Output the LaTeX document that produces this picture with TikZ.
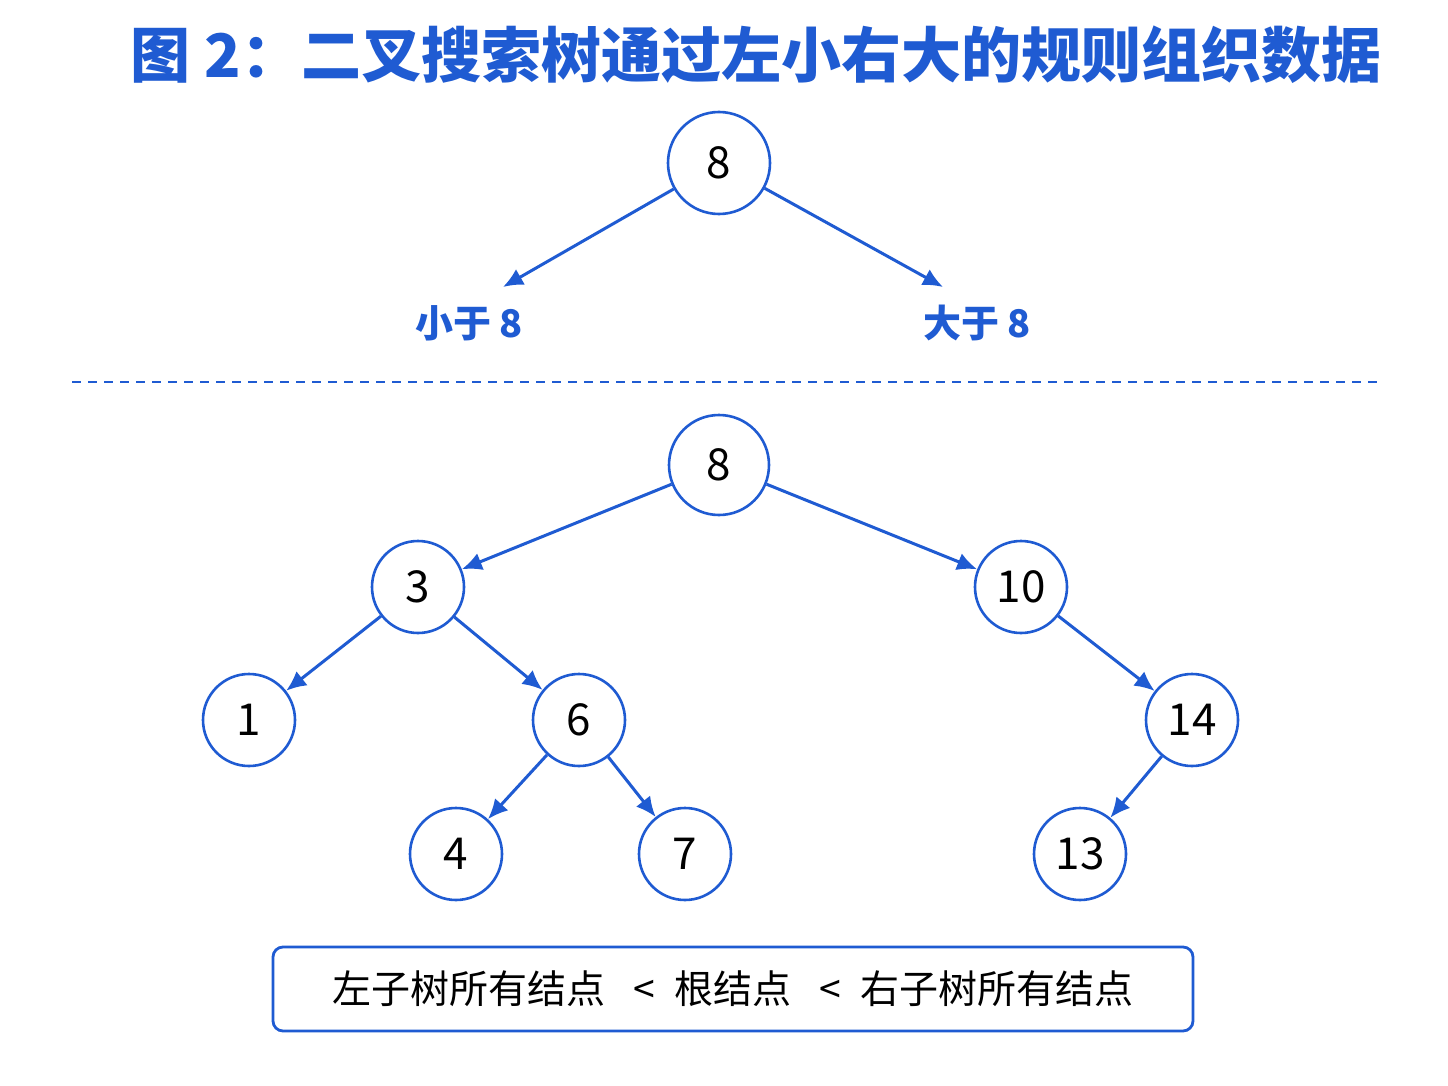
\documentclass[tikz,border=0pt]{standalone}
\usepackage{fontspec}
\setmainfont{Noto Sans CJK SC}
\usetikzlibrary{arrows.meta}
\definecolor{bstblue}{HTML}{1F5BD2}
\begin{document}
\begin{tikzpicture}[x=1pt,y=-1pt]
\tikzset{bstnode/.style={shape=circle, minimum size=92pt, inner sep=0pt, draw=bstblue, line width=2.6pt, fill=white, font=\fontsize{44}{48}\selectfont}}
\tikzset{bstedge/.style={-{Latex[length=20pt,width=18pt]}, draw=bstblue, line width=3pt}}
\useasboundingbox[fill=white] (0,0) rectangle (1448,1086);
% title
\node (title) at (756,55) {\fontsize{60}{64}\selectfont\bfseries\color{bstblue}图 2：二叉搜索树通过左小右大的规则组织数据};
% rule
\node (top) [bstnode, minimum size=102pt] at (719,163) {8};
\coordinate (tl) at (503,287);
\coordinate (tr) at (943,287);
\node (less) at (469,323) {\fontsize{38}{42}\selectfont\bfseries\color{bstblue}小于 8};
\node (more) at (977,323) {\fontsize{38}{42}\selectfont\bfseries\color{bstblue}大于 8};
\draw[bstedge] (top) to (tl);
\draw[bstedge] (top) to (tr);
\coordinate (dl) at (72,382);
\coordinate (dr) at (1383,382);
\draw[draw=bstblue, line width=2pt, dash pattern=on 9pt off 7pt] (dl) -- (dr);
% tree
\node (n8)  [bstnode, minimum size=100pt] at (719,465) {8};
\node (n3)  [bstnode] at (418,587) {3};
\node (n10) [bstnode] at (1021,587) {10};
\node (n1)  [bstnode] at (249,720) {1};
\node (n6)  [bstnode] at (579,720) {6};
\node (n14) [bstnode] at (1192,720) {14};
\node (n4)  [bstnode] at (456,854) {4};
\node (n7)  [bstnode] at (685,854) {7};
\node (n13) [bstnode] at (1080,854) {13};
\draw[bstedge] (n8) to (n3);
\draw[bstedge] (n8) to (n10);
\draw[bstedge] (n3) to (n1);
\draw[bstedge] (n3) to (n6);
\draw[bstedge] (n10) to (n14);
\draw[bstedge] (n6) to (n4);
\draw[bstedge] (n6) to (n7);
\draw[bstedge] (n14) to (n13);
% summary
\node (sum) [draw=bstblue, line width=2.8pt, rounded corners=10pt, minimum width=920pt, minimum height=84pt, font=\fontsize{39}{43}\selectfont] at (733,989) {左子树所有结点 \enspace<\enspace 根结点 \enspace<\enspace 右子树所有结点};
\end{tikzpicture}
\end{document}
